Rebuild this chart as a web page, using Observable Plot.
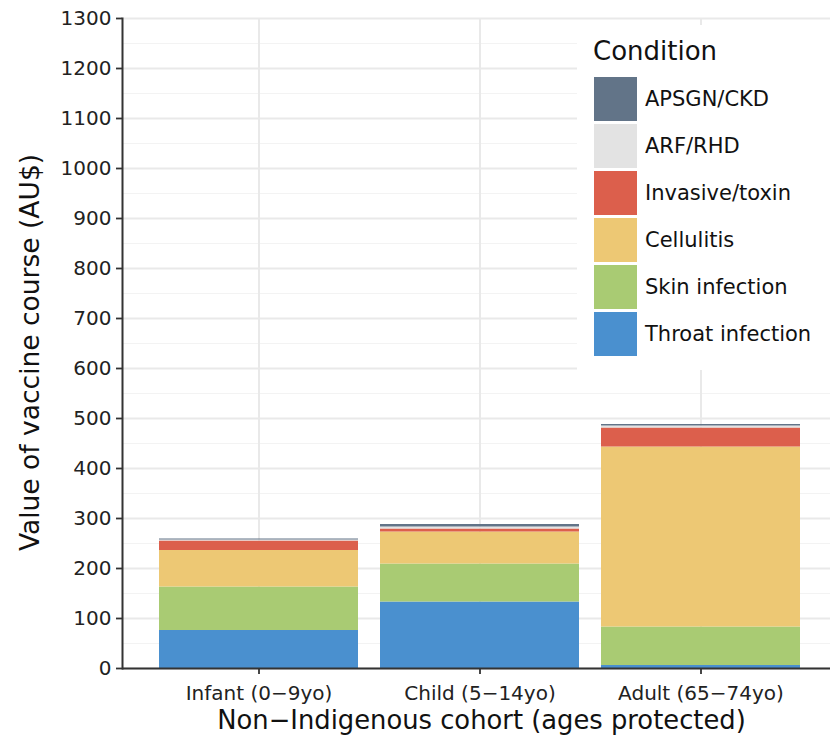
<!DOCTYPE html>
<html>
<head>
<meta charset="utf-8">
<script src="https://cdn.jsdelivr.net/npm/d3@7"></script>
<script src="https://cdn.jsdelivr.net/npm/@observablehq/plot@0.6"></script>
<style>
  html, body { margin: 0; padding: 0; background: white; overflow: hidden; }
  #wrap { position: relative; width: 830px; height: 741px; font-family: "DejaVu Sans", sans-serif; }
  #legend { position: absolute; left: 577px; top: 25px; width: 260px; height: 345px; background: white; }
  #legend .title { position: absolute; left: 16px; top: 11px; font-size: 26px; color: #111; }
  #legend .item { position: absolute; left: 17px; height: 44px; display: flex; align-items: center; }
  #legend .sw { width: 43px; height: 44px; }
  #legend .lab { margin-left: 8px; font-size: 21px; color: #111; }
</style>
</head>
<body>
<div id="wrap"></div>
<script>
const categories = ["Infant (0−9yo)", "Child (5−14yo)", "Adult (65−74yo)"];
const conditions = ["Throat infection", "Skin infection", "Cellulitis", "Invasive/toxin", "ARF/RHD", "APSGN/CKD"];
const colors = ["#4a90cf", "#a9cb73", "#edc874", "#dc5f4c", "#e3e3e3", "#627488"];
const throat = [76, 133, 6];
const skin = [87, 76, 77];
const cellulitis = [73, 64, 360];
const invasive = [19, 6, 38];
const arf = [2, 4, 4];
const apsgn = [2, 5, 3];
const yTicks = [0, 100, 200, 300, 400, 500, 600, 700, 800, 900, 1000, 1100, 1200, 1300];
const yMinor = [50, 150, 250, 350, 450, 550, 650, 750, 850, 950, 1050, 1150, 1250];
const xTitle = "Non−Indigenous cohort (ages protected)";
const yTitle = "Value of vaccine course (AU$)";
const legendTitle = "Condition";

const series = [throat, skin, cellulitis, invasive, arf, apsgn];
const data = [];
conditions.forEach((c, i) => categories.forEach((k, j) => data.push({cohort: k, condition: c, value: series[i][j]})));

const plot = Plot.plot({
  width: 830,
  height: 741,
  marginLeft: 122,
  marginRight: 0,
  marginTop: 18,
  marginBottom: 73,
  style: {fontFamily: "DejaVu Sans, sans-serif", color: "#222", background: "white"},
  x: {domain: categories, range: [122, 837], paddingInner: 0.1, paddingOuter: 0.162, label: null},
  y: {domain: [0, 1300], label: null},
  color: {domain: conditions, range: colors},
  marks: [
    Plot.ruleY(yMinor, {stroke: "#f3f3f3", strokeWidth: 1.2}),
    Plot.ruleY(yTicks, {stroke: "#e9e9e9", strokeWidth: 1.8}),
    Plot.ruleX(categories, {stroke: "#e9e9e9", strokeWidth: 2}),
    Plot.barY(data, {x: "cohort", y: "value", fill: "condition"}),
    Plot.axisY({ticks: yTicks, tickFormat: d => String(d), tickSize: 6, tickPadding: 5, fontSize: 20, stroke: "#333", strokeWidth: 1.8, label: null}),
    Plot.axisX({tickSize: 6, tickPadding: 11, fontSize: 20, stroke: "#333", strokeWidth: 1.8, label: null}),
    Plot.ruleY([0], {stroke: "#333", strokeWidth: 2}),
    Plot.frame({anchor: "left", stroke: "#333", strokeWidth: 2}),
    Plot.text([yTitle], {frameAnchor: "left", textAnchor: "middle", rotate: -90, dx: -92, dy: 9, fontSize: 26.5, fill: "#111"}),
    Plot.text([xTitle], {frameAnchor: "bottom", dy: 60, dx: 5, fontSize: 25.8, fill: "#111"})
  ]
});
const wrap = document.getElementById("wrap");
wrap.appendChild(plot);

const legend = document.createElement("div");
legend.id = "legend";
const t = document.createElement("div");
t.className = "title";
t.textContent = legendTitle;
legend.appendChild(t);
const order = conditions.slice().reverse();
order.forEach((c, i) => {
  const item = document.createElement("div");
  item.className = "item";
  item.style.top = (52 + i * 47) + "px";
  const sw = document.createElement("div");
  sw.className = "sw";
  sw.style.background = colors[conditions.indexOf(c)];
  const lab = document.createElement("span");
  lab.className = "lab";
  lab.textContent = c;
  item.appendChild(sw);
  item.appendChild(lab);
  legend.appendChild(item);
});
wrap.appendChild(legend);
</script>
</body>
</html>
